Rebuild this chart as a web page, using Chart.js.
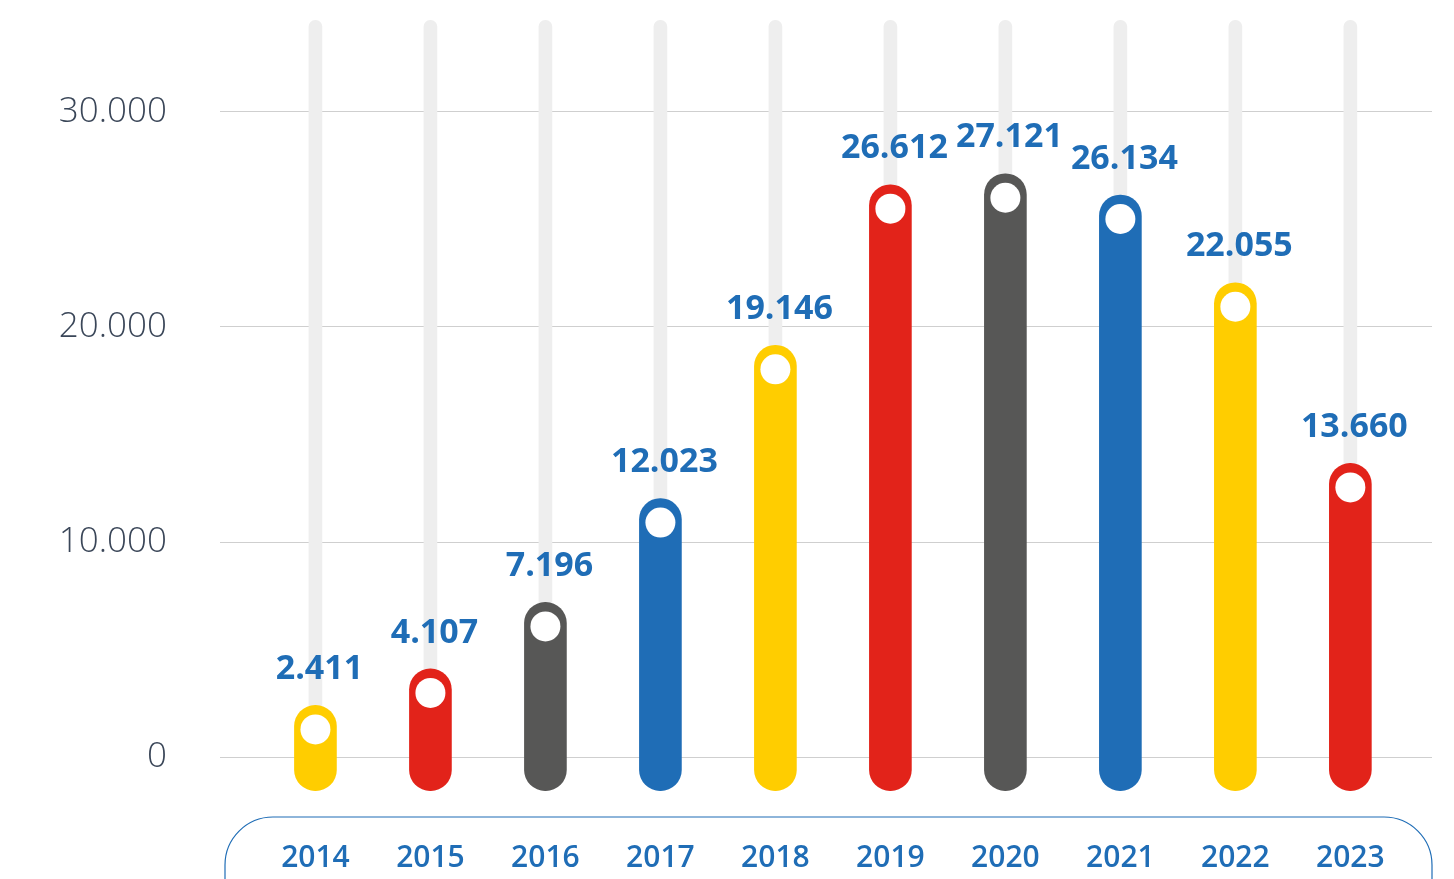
<!DOCTYPE html>
<html>
<head>
<meta charset="utf-8">
<script src="https://cdn.jsdelivr.net/npm/chart.js@4.4.1/dist/chart.umd.min.js"></script>
<style>
  html, body { margin: 0; padding: 0; background: #ffffff; }
  #wrap { width: 1454px; height: 879px; position: relative; }
</style>
</head>
<body>
<div id="wrap"><canvas id="grafico"></canvas></div>
<script>
// dados
var anos = ["2014", "2015", "2016", "2017", "2018", "2019", "2020", "2021", "2022", "2023"];
var valores = [2411, 4107, 7196, 12023, 19146, 26612, 27121, 26134, 22055, 13660];
var cores = ["#ffcd00", "#e2231a", "#575756", "#1f6db6", "#ffcd00", "#e2231a", "#575756", "#1f6db6", "#ffcd00", "#e2231a"];
var ticksY = [0, 10000, 20000, 30000];

var fundoBarra = -1550;   // onde comeca a barra (abaixo do zero)
var topoTrilho = 34250;   // topo do trilho cinza

function formatar(v) {
  return String(v).replace(/\B(?=(\d{3})+(?!\d))/g, ".");
}

var azul = "#1f6db6";

// moldura arredondada em volta dos anos
var pluginMoldura = {
  id: "moldura",
  afterDraw: function (chart) {
    var ctx = chart.ctx;
    var area = chart.chartArea;
    var x0 = area.left + 5, x1 = area.right, y0 = area.bottom + 21, y1 = y0 + 110, r = 48;
    ctx.save();
    ctx.strokeStyle = azul;
    ctx.lineWidth = 1.2;
    ctx.beginPath();
    ctx.moveTo(x0 + r, y0);
    ctx.lineTo(x1 - r, y0);
    ctx.arcTo(x1, y0, x1, y0 + r, r);
    ctx.lineTo(x1, y1);
    ctx.moveTo(x0, y1);
    ctx.lineTo(x0, y0 + r);
    ctx.arcTo(x0, y0, x0 + r, y0, r);
    ctx.stroke();
    ctx.restore();
  }
};

// bolinha branca e valor em cima de cada barra
var pluginRotulos = {
  id: "rotulos",
  afterDatasetsDraw: function (chart) {
    var ctx = chart.ctx;
    var meta = chart.getDatasetMeta(1);
    ctx.save();
    meta.data.forEach(function (barra, i) {
      var raio = barra.width / 2;
      ctx.fillStyle = "#ffffff";
      ctx.beginPath();
      ctx.arc(barra.x, barra.y + raio + 3, 15, 0, Math.PI * 2);
      ctx.fill();

      ctx.fillStyle = azul;
      ctx.font = "bold 34px 'Open Sans'";
      ctx.textAlign = "center";
      ctx.textBaseline = "middle";
      ctx.fillText(formatar(valores[i]), barra.x + 4, barra.y - 36);
    });
    ctx.restore();
  }
};

var ctx = document.getElementById("grafico").getContext("2d");

var grafico = new Chart(ctx, {
  type: "bar",
  data: {
    datasets: [
      {
        label: "trilho",
        data: anos.map(function (a, i) { return { x: i, y: [fundoBarra, topoTrilho] }; }),
        backgroundColor: "#eeeeee",
        barThickness: 13,
        borderRadius: 7,
        borderSkipped: false,
        grouped: false,
        order: 2,
      },
      {
        label: "valores",
        data: valores.map(function (v, i) { return { x: i, y: [fundoBarra, v] }; }),
        backgroundColor: cores,
        barThickness: 42,
        borderRadius: 21,
        borderSkipped: false,
        grouped: false,
        order: 1,
      },
    ],
  },
  options: {
    responsive: true,
    maintainAspectRatio: false,
    animation: false,
    layout: {
      padding: { left: 0, right: 22, top: 15, bottom: 0 },
    },
    plugins: {
      legend: { display: false },
      tooltip: { enabled: false },
    },
    scales: {
      x: {
        type: "linear",
        offset: false,
        min: -0.83,
        max: 9.71,
        grid: { display: false, drawTicks: false },
        border: { display: false },
        afterBuildTicks: function (scale) {
          scale.ticks = anos.map(function (a, i) { return { value: i }; });
        },
        afterFit: function (scale) {
          scale.height = 83;
          scale.paddingLeft = 0;
          scale.paddingRight = 0;
        },
        ticks: {
          autoSkip: false,
          maxRotation: 0,
          padding: 44,
          color: azul,
          font: { size: 30, weight: 600, family: "Open Sans" },
          callback: function (v) { return anos[v]; },
        },
      },
      y: {
        min: -1800,
        max: 34500,
        grid: {
          color: "#cfcfcf",
          lineWidth: 1,
          drawTicks: false,
        },
        border: { display: false },
        afterBuildTicks: function (scale) {
          scale.ticks = ticksY.map(function (v) { return { value: v }; });
        },
        afterFit: function (scale) {
          scale.width = 220;
          scale.paddingTop = 0;
          scale.paddingBottom = 0;
        },
        ticks: {
          padding: 53,
          color: "#3a4658",
          font: { size: 35, weight: 300, family: "Open Sans" },
          callback: function (v) { return formatar(v); },
        },
      },
    },
  },
  plugins: [pluginMoldura, pluginRotulos],
});
</script>
</body>
</html>
